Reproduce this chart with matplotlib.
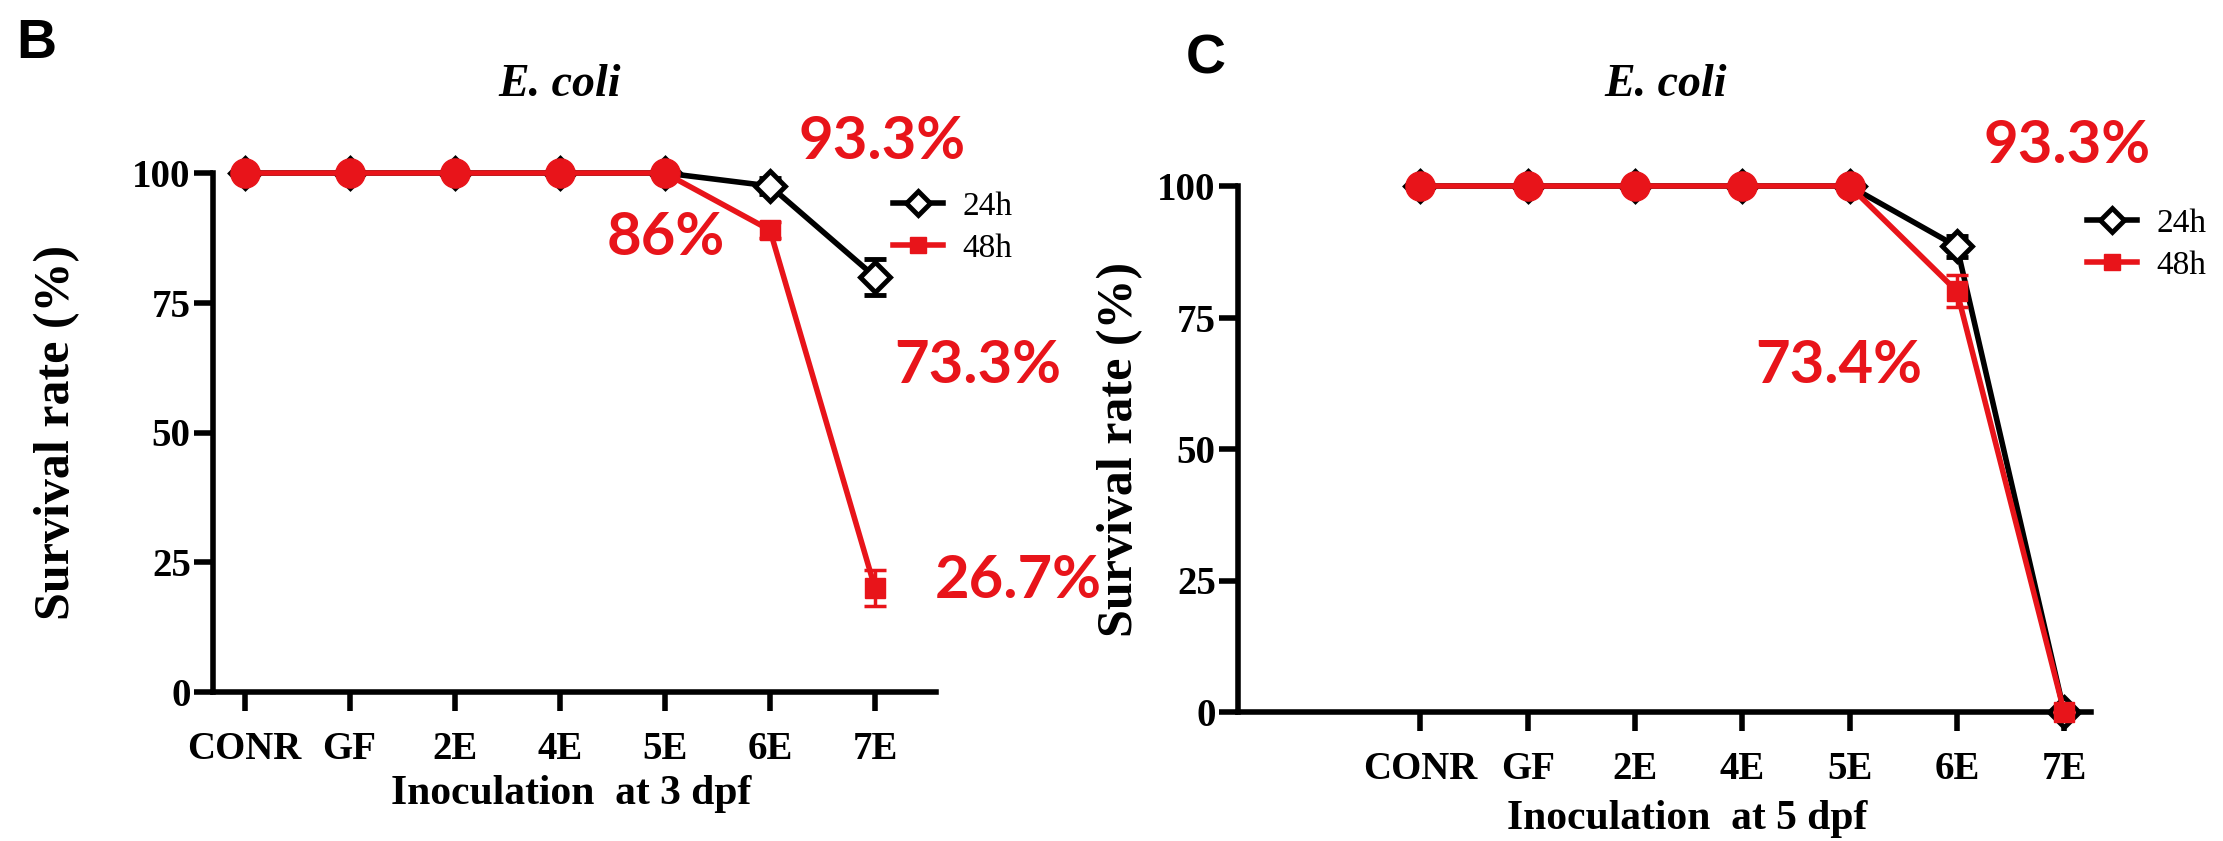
import matplotlib
matplotlib.use("Agg")
import matplotlib.pyplot as plt
from matplotlib.lines import Line2D
import numpy as np

# ---- data ----
groups = ["CONR", "GF", "2E", "4E", "5E", "6E", "7E"]

b_24h = [100, 100, 100, 100, 100, 97.5, 80]
b_24h_err = [0, 0, 0, 0, 0, 1.5, 3.5]
b_48h = [100, 100, 100, 100, 100, 89, 20]
b_48h_err = [0, 0, 0, 0, 0, 1.5, 3.5]

c_24h = [100, 100, 100, 100, 100, 88.5, 0]
c_24h_err = [0, 0, 0, 0, 0, 2, 0]
c_48h = [100, 100, 100, 100, 100, 80, 0]
c_48h_err = [0, 0, 0, 0, 0, 3, 0]

b_notes = ["93.3%", "86%", "73.3%", "26.7%"]
c_notes = ["93.3%", "73.4%"]

W, H = 2223, 841
SERIF = "Liberation Serif"
NOTE_FONT = "Lato"
RED = "#e8141a"


def px(x, y):
    return x / W, 1 - y / H


def _panel(fig, rect, s24, e24, s48, e48, xlim, xlabel, xlab_pos, ylab_x,
           legend_anchor):
    ax = fig.add_axes(rect)
    x = np.arange(len(groups))
    ax.errorbar(x, s24, yerr=e24, color="black", lw=4, marker="D", ms=15,
                mfc="white", mec="black", mew=3.5, capsize=8, capthick=3.5,
                elinewidth=3.5, clip_on=False, zorder=3)
    ax.errorbar(x, s48, yerr=e48, color=RED, lw=4, marker="s", ms=15,
                mfc=RED, mec=RED, capsize=8, capthick=2.5,
                elinewidth=2.5, clip_on=False, zorder=4)
    # red dots on the flat part look round in the original
    ax.plot(x[:5], s48[:5], ls="none", marker="o", ms=21, mfc=RED, mec=RED,
            clip_on=False, zorder=5)
    ax.set_xlim(*xlim)
    ax.set_ylim(0, 100)
    ax.set_yticks([0, 25, 50, 75, 100])
    ax.set_xticks(x)
    ax.set_xticklabels(groups)
    for sp in ("top", "right"):
        ax.spines[sp].set_visible(False)
    for sp in ("left", "bottom"):
        ax.spines[sp].set_linewidth(4)
    ax.tick_params(axis="both", width=4, length=14, direction="out")
    ax.tick_params(axis="x", pad=14)
    ax.tick_params(axis="y", pad=2)
    for lab in ax.get_xticklabels() + ax.get_yticklabels():
        lab.set_fontfamily(SERIF)
        lab.set_fontweight("bold")
        lab.set_fontsize(28)
    ax.set_xlabel(xlabel, fontfamily=SERIF, fontweight="bold", fontsize=30,
                  va="center")
    ax.xaxis.set_label_coords(*xlab_pos)
    ax.set_ylabel("Survival rate (%)", fontfamily=SERIF, fontweight="bold",
                  fontsize=36, va="center")
    ax.yaxis.set_label_coords(ylab_x, 0.5)
    handles = [
        Line2D([], [], color="black", lw=4, marker="D", ms=12, mfc="white",
               mec="black", mew=3.5),
        Line2D([], [], color=RED, lw=4, marker="s", ms=12, mfc=RED, mec=RED),
    ]
    ax.legend(handles, ["24h", "48h"], loc="upper left",
              bbox_to_anchor=legend_anchor, frameon=False,
              prop={"family": SERIF, "size": 24}, handlelength=1.5,
              handletextpad=0.6, labelspacing=0.35, borderpad=0,
              borderaxespad=0)
    return ax


fig = plt.figure(figsize=(W / 100, H / 100), dpi=100)

ax_b = _panel(fig, [213 / W, 1 - 692 / H, 723 / W, 519 / H],
              b_24h, b_24h_err, b_48h, b_48h_err, (-0.3, 6.58),
              "Inoculation  at 3 dpf", (0.495, -0.197), -0.216, (0.94, 0.965))
ax_c = _panel(fig, [1238 / W, 1 - 712 / H, 853 / W, 526 / H],
              c_24h, c_24h_err, c_48h, c_48h_err, (-1.7, 6.25),
              "Inoculation  at 5 dpf", (0.526, -0.203), -0.138, (0.995, 0.958))

title_kw = dict(family=SERIF, fontstyle="italic", fontweight="bold",
                fontsize=33, ha="center", va="center")
fig.text(*px(560, 85), "E. coli", **title_kw)
fig.text(*px(1666, 85), "E. coli", **title_kw)

fig.text(*px(16, 44), "B", fontsize=40, family="Liberation Sans",
         fontweight="bold", va="center", ha="left")
fig.text(*px(1186, 60), "C", fontsize=40, family="Liberation Sans",
         fontweight="bold", va="center", ha="left")

note_kw = dict(color=RED, fontsize=43, fontweight="bold", family=NOTE_FONT,
               ha="center", va="center")
for txt, (nx, ny) in zip(b_notes, [(882, 142), (666, 238), (978, 366), (1018, 581)]):
    fig.text(*px(nx, ny), txt, **note_kw)
for txt, (nx, ny) in zip(c_notes, [(2067, 146), (1839, 366)]):
    fig.text(*px(nx, ny), txt, **note_kw)

fig.savefig("out.png", dpi=100)
